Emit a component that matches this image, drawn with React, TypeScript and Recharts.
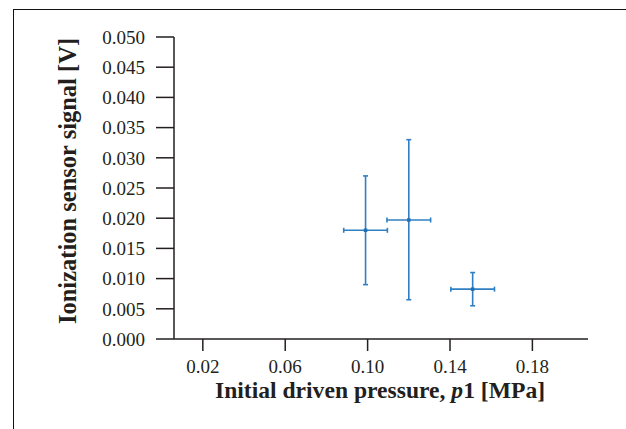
import React from 'react';
import { ScatterChart, Scatter, XAxis, YAxis, ErrorBar } from 'recharts';

const pressure = [0.099, 0.12, 0.151];
const pressureErr = [0.0106, 0.0106, 0.0106];
const signal = [0.018, 0.0197, 0.00825];
const signalTop = [0.027, 0.033, 0.011];
const signalBottom = [0.009, 0.0065, 0.0055];

const xTicks = [0.02, 0.06, 0.1, 0.14, 0.18];
const yTicks = [0, 0.005, 0.01, 0.015, 0.02, 0.025, 0.03, 0.035, 0.04, 0.045, 0.05];

const data = pressure.map((p, i) => ({
  p,
  s: signal[i],
  ex: [pressureErr[i], pressureErr[i]],
  ey: [signal[i] - signalBottom[i], signalTop[i] - signal[i]],
}));

const FONT = '"Liberation Serif", "Times New Roman", serif';
const AXIS = '#231f20';
const BLUE = '#2f7fc2';

const XTitle = () => (
  <text x={380} y={398} textAnchor="middle" fontFamily={FONT} fontSize={23.6} fontWeight="bold" fill={AXIS}>
    Initial driven pressure, <tspan fontStyle="italic">p</tspan>1 [MPa]
  </text>
);

const YTitle = () => (
  <text
    x={0}
    y={0}
    transform="translate(76,181) rotate(-90)"
    textAnchor="middle"
    fontFamily={FONT}
    fontSize={24.5}
    fontWeight="bold"
    fill={AXIS}
  >
    Ionization sensor signal [V]
  </text>
);

const Dot = (props: any) => {
  const { cx, cy } = props;
  if (cx == null || cy == null) return null;
  return <rect x={cx - 1.75} y={cy - 1.75} width={3.5} height={3.5} fill="#1f6fb5" />;
};

export default function App() {
  return (
    <div style={{ position: 'fixed', left: 0, top: 0, width: 626, height: 429, overflow: 'hidden', background: '#fff' }}>
      <div
        style={{
          position: 'absolute',
          left: 13,
          top: 9,
          width: 700,
          height: 500,
          borderLeft: '1.5px solid #111',
          borderTop: '1.5px solid #111',
        }}
      />
      <div style={{ position: 'absolute', left: 0, top: 0 }}>
        <ScatterChart width={626} height={429} margin={{ top: 37, right: 38, bottom: 60, left: 114 }}>
          <XAxis
            type="number"
            dataKey="p"
            domain={[0.006, 0.207]}
            ticks={xTicks}
            allowDataOverflow
            height={30}
            tickSize={12}
            tickMargin={9}
            tickFormatter={(v: number) => v.toFixed(2)}
            stroke={AXIS}
            strokeWidth={1.5}
            tick={{ fill: AXIS, fontFamily: FONT, fontSize: 19 }}
            label={<XTitle />}
          />
          <YAxis
            type="number"
            dataKey="s"
            domain={[0, 0.05]}
            ticks={yTicks}
            allowDataOverflow
            width={60}
            tickSize={18}
            tickMargin={11}
            tickFormatter={(v: number) => v.toFixed(3)}
            stroke={AXIS}
            strokeWidth={1.5}
            tick={{ fill: AXIS, fontFamily: FONT, fontSize: 19 }}
            label={<YTitle />}
          />
          <Scatter data={data} fill="#1f6fb5" shape={<Dot />} isAnimationActive={false}>
            <ErrorBar dataKey="ey" direction="y" width={2.5} stroke={BLUE} strokeWidth={1.6} isAnimationActive={false} />
            <ErrorBar dataKey="ex" direction="x" width={2.5} stroke={BLUE} strokeWidth={1.6} isAnimationActive={false} />
          </Scatter>
        </ScatterChart>
      </div>
    </div>
  );
}
